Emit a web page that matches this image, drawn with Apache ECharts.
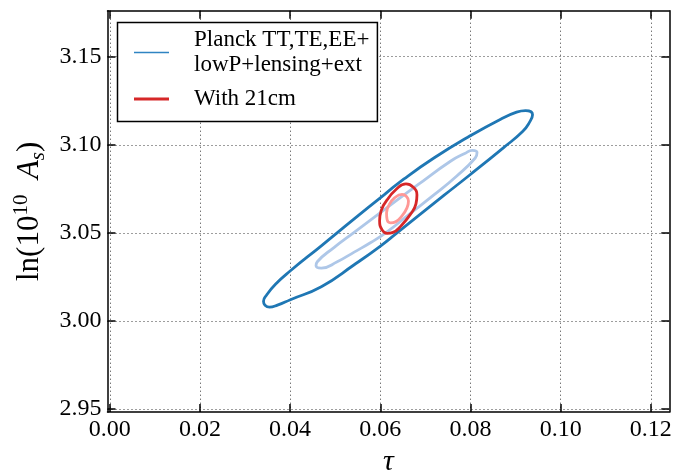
<!DOCTYPE html>
<html>
<head>
<meta charset="utf-8">
<script src="https://cdn.jsdelivr.net/npm/echarts@6/dist/echarts.min.js"></script>
<style>
  html, body { margin: 0; padding: 0; background: #fff; }
  #chart { width: 675px; height: 470px; }
</style>
</head>
<body>
<div id="chart"></div>
<script>
// tick positions
const xTicks = [0, 0.02, 0.04, 0.06, 0.08, 0.10, 0.12];
const yTicks = [2.95, 3.00, 3.05, 3.10, 3.15];

// contours: [tau, ln(10^10 As)]
const planckOuter = [
  [0.06084, 3.07152], [0.06526, 3.08058], [0.07189, 3.09247], [0.07984, 3.10493],
  [0.0867, 3.11455], [0.09023, 3.11852], [0.09222, 3.1194], [0.09377, 3.1171],
  [0.09311, 3.11286], [0.09156, 3.10748], [0.08736, 3.09841], [0.07984, 3.08284],
  [0.0741, 3.07123], [0.06813, 3.05906], [0.06371, 3.05], [0.05996, 3.04236],
  [0.05421, 3.03188], [0.04692, 3.01942], [0.04007, 3.01206], [0.03719, 3.00895],
  [0.03543, 3.00781], [0.03443, 3.00895], [0.0341, 3.01121], [0.03476, 3.01461],
  [0.03675, 3.02084], [0.04007, 3.02848], [0.04692, 3.04264], [0.05421, 3.05793],
  [0.06084, 3.07152]
];
const planckInner = [
  [0.06084, 3.06302], [0.06813, 3.0769], [0.07565, 3.09077], [0.07874, 3.09502],
  [0.0804, 3.09683], [0.08146, 3.09558], [0.08106, 3.09247], [0.07697, 3.08228],
  [0.07189, 3.07152], [0.06681, 3.06133], [0.0615, 3.05057], [0.0579, 3.04451],
  [0.05421, 3.03907], [0.05045, 3.03358], [0.04692, 3.03001], [0.04575, 3.03131],
  [0.04603, 3.03358], [0.04979, 3.04179], [0.05421, 3.05028], [0.06084, 3.06302]
];
const cm21Outer = [
  [0.0615, 3.06869], [0.06349, 3.07463], [0.0657, 3.07775], [0.06725, 3.07605],
  [0.06813, 3.07152], [0.06791, 3.06642], [0.06659, 3.06019], [0.0646, 3.05396],
  [0.06283, 3.05028], [0.0615, 3.04972], [0.0604, 3.0517], [0.05985, 3.0568],
  [0.06018, 3.06246], [0.0615, 3.06869]
];
const cm21Inner = [
  [0.06194, 3.06586], [0.06316, 3.06982], [0.06482, 3.0718], [0.06581, 3.07067],
  [0.06625, 3.06812], [0.06592, 3.06416], [0.06482, 3.05963], [0.06338, 3.05623],
  [0.06228, 3.05566], [0.0615, 3.05764], [0.06139, 3.06133], [0.06194, 3.06586]
];

const planckName = "Planck TT,TE,EE+\nlowP+lensing+ext";
const cmName = "With 21cm";
const serif = "Liberation Serif";

const chart = echarts.init(document.getElementById("chart"));

const tickStyle = { show: true, inside: true, length: 8, lineStyle: { color: "#000", width: 1.5 } };
const spine = { show: true, onZero: false, lineStyle: { color: "#000", width: 1.5 } };
const dotted = { show: true, lineStyle: { color: "#3a3a3a", width: 1, type: [1, 3] } };

function xAxis(pos, main) {
  return {
    type: "value", position: pos, min: -0.0005, max: 0.1241,
    axisLine: spine,
    axisTick: Object.assign({ customValues: xTicks }, tickStyle),
    axisLabel: {
      show: main, customValues: xTicks, margin: 6,
      fontFamily: serif, fontSize: 24, color: "#000",
      formatter: v => v.toFixed(2)
    },
    splitLine: main ? dotted : { show: false },
    name: main ? "τ" : "",
    nameLocation: "middle", nameGap: 33,
    nameTextStyle: { fontFamily: serif, fontStyle: "italic", fontSize: 30, color: "#000" }
  };
}

function yAxis(pos, main) {
  return {
    type: "value", position: pos, min: 2.9483, max: 3.1761,
    axisLine: spine,
    axisTick: Object.assign({ customValues: yTicks }, tickStyle),
    axisLabel: {
      show: main, customValues: yTicks, margin: 6,
      fontFamily: serif, fontSize: 24, color: "#000",
      formatter: v => v.toFixed(2)
    },
    splitLine: main ? dotted : { show: false },
    name: main ? "{n|ln(10}{sup|10}{it|  A}{sub|s}{n|)}" : "",
    nameLocation: "middle", nameGap: 54,
    nameTextStyle: {
      color: "#000",
      rich: {
        n: { fontFamily: serif, fontSize: 31, lineHeight: 38, color: "#000" },
        sup: { fontFamily: serif, fontSize: 21, verticalAlign: "top", color: "#000" },
        it: { fontFamily: serif, fontStyle: "italic", fontSize: 31, lineHeight: 38, color: "#000" },
        sub: { fontFamily: serif, fontStyle: "italic", fontSize: 21, verticalAlign: "bottom", color: "#000" }
      }
    }
  };
}

function contour(name, data, color) {
  return {
    name: name, type: "line", data: data, smooth: 0.5,
    symbol: "none", xAxisIndex: 0, yAxisIndex: 0,
    lineStyle: { color: color, width: 2.8 },
    itemStyle: { color: color },
    animation: false
  };
}

const noMarker = { color: "rgba(0,0,0,0)", borderWidth: 0 };

chart.setOption({
  animation: false,
  grid: { left: 107.5, right: 5.7, top: 10.7, bottom: 58, containLabel: false, outerBoundsMode: "none" },
  xAxis: [xAxis("bottom", true), xAxis("top", false)],
  yAxis: [yAxis("left", true), yAxis("right", false)],
  legend: {
    orient: "vertical", left: 117.5, top: 22.5,
    selectedMode: false,
    data: [
      { name: planckName, lineStyle: { width: 1.5, color: "#2f84c2" }, itemStyle: noMarker },
      { name: cmName, lineStyle: { width: 3, color: "#d62728" }, itemStyle: noMarker }
    ],
    itemWidth: 35, itemHeight: 14, itemGap: 9,
    padding: [5, 8, 10, 15],
    borderColor: "#000", borderWidth: 1.5, borderRadius: 0,
    backgroundColor: "#fff",
    textStyle: { fontFamily: serif, fontSize: 23, color: "#000", lineHeight: 25, padding: [0, 0, 0, 20] }
  },
  series: [
    contour(planckName, planckOuter, "#1f77b4"),
    contour("Planck inner", planckInner, "#aec7e8"),
    contour(cmName, cm21Outer, "#d62728"),
    contour("21cm inner", cm21Inner, "#ff9896")
  ]
});
</script>
</body>
</html>
